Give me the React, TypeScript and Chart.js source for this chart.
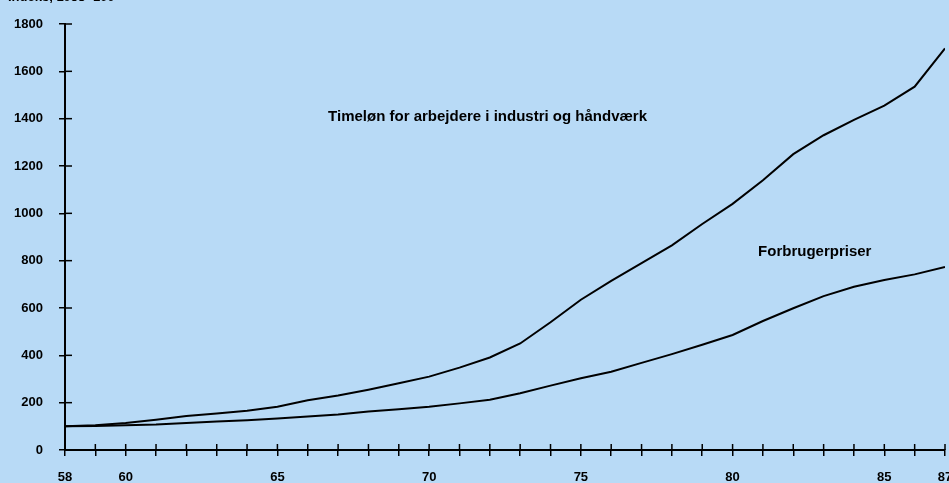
import React, { useEffect, useRef } from 'react';
import { Chart, registerables } from 'chart.js';

Chart.register(...registerables);

// ---- Data ----
const years = [58, 59, 60, 61, 62, 63, 64, 65, 66, 67, 68, 69, 70, 71, 72, 73, 74, 75, 76, 77, 78, 79, 80, 81, 82, 83, 84, 85, 86, 87];
const wages = [100, 105, 114, 128, 144, 154, 166, 183, 210, 230, 255, 282, 310, 348, 391, 450, 540, 635, 715, 790, 865, 955, 1040, 1140, 1250, 1330, 1395, 1455, 1535, 1697];
const prices = [100, 101, 105, 108, 114, 120, 126, 133, 142, 150, 163, 172, 183, 197, 212, 240, 272, 303, 331, 368, 405, 445, 486, 545, 599, 650, 690, 718, 742, 773];
const xLabels = [58, 60, 65, 70, 75, 80, 85, 87];
const yTicks = [0, 200, 400, 600, 800, 1000, 1200, 1400, 1600, 1800];
const wageLabel = 'Timeløn for arbejdere i industri og håndværk';
const priceLabel = 'Forbrugerpriser';
const yTitle = 'Indeks, 1958=100';

const FONT = '"Liberation Sans", Arial, Helvetica, sans-serif';
const BG = 'rgb(184, 218, 246)';

const decorPlugin = {
  id: 'decor',
  afterDraw(chart: any) {
    const { ctx, scales, chartArea } = chart;
    const xs = scales.x;
    const ys = scales.y;
    ctx.save();
    ctx.strokeStyle = '#000';
    ctx.lineWidth = 1.5;
    // inner halves of crossing ticks
    years.forEach((v) => {
      const px = xs.getPixelForValue(v);
      ctx.beginPath();
      ctx.moveTo(px, chartArea.bottom);
      ctx.lineTo(px, chartArea.bottom - 6);
      ctx.stroke();
    });
    yTicks.forEach((v) => {
      if (v === 0) return;
      const py = ys.getPixelForValue(v);
      ctx.beginPath();
      ctx.moveTo(chartArea.left, py);
      ctx.lineTo(chartArea.left + 7, py);
      ctx.stroke();
    });
    // annotations
    ctx.fillStyle = '#000';
    ctx.font = `bold 15px ${FONT}`;
    ctx.textBaseline = 'middle';
    ctx.textAlign = 'left';
    ctx.fillText(wageLabel, xs.getPixelForValue(66.67), ys.getPixelForValue(1408));
    ctx.fillText(priceLabel, xs.getPixelForValue(80.84), ys.getPixelForValue(836));
    ctx.font = `bold 13px ${FONT}`;
    ctx.textBaseline = 'alphabetic';
    ctx.fillText(yTitle, 8, 1);
    ctx.restore();
  },
};

export default function App() {
  const ref = useRef<HTMLCanvasElement | null>(null);

  useEffect(() => {
    if (!ref.current) return;
    const tickFont = { family: FONT, size: 13, weight: 'bold' as const };
    const chart = new Chart(ref.current, {
      type: 'line',
      data: {
        labels: years,
        datasets: [
          {
            label: wageLabel,
            data: years.map((y, i) => ({ x: y, y: wages[i] })),
            borderColor: '#000',
            borderWidth: 2,
            pointRadius: 0,
            tension: 0,
            fill: false,
          },
          {
            label: priceLabel,
            data: years.map((y, i) => ({ x: y, y: prices[i] })),
            borderColor: '#000',
            borderWidth: 2,
            pointRadius: 0,
            tension: 0,
            fill: false,
          },
        ],
      },
      options: {
        animation: false,
        responsive: false,
        maintainAspectRatio: false,
        layout: { padding: { top: 24, right: 4, bottom: 0, left: 0 } },
        plugins: { legend: { display: false }, tooltip: { enabled: false } },
        scales: {
          x: {
            type: 'linear',
            min: 58,
            max: 87,
            afterBuildTicks: (s: any) => {
              s.ticks = years.map((v) => ({ value: v }));
            },
            ticks: {
              autoSkip: false,
              maxRotation: 0,
              padding: 14,
              color: '#000',
              font: tickFont,
              callback: (v: any) => (xLabels.includes(Number(v)) ? String(v) : ''),
            },
            grid: { display: true, drawOnChartArea: false, drawTicks: true, tickLength: 6, color: '#000', lineWidth: 1.5 },
            border: { display: true, color: '#000', width: 2 },
            afterFit: (s: any) => {
              s.height = 33;
              s.paddingLeft = 0;
              s.paddingRight = 0;
            },
          },
          y: {
            type: 'linear',
            min: 0,
            max: 1800,
            afterBuildTicks: (s: any) => {
              s.ticks = yTicks.map((v) => ({ value: v }));
            },
            ticks: {
              padding: 16,
              color: '#000',
              font: tickFont,
              callback: (v: any) => String(v),
            },
            grid: { display: true, drawOnChartArea: false, drawTicks: true, tickLength: 6, color: '#000', lineWidth: 1.5 },
            border: { display: true, color: '#000', width: 2 },
            afterFit: (s: any) => {
              s.width = 65;
              s.paddingTop = 0;
              s.paddingBottom = 0;
            },
          },
        },
      },
      plugins: [decorPlugin],
    } as any);
    return () => chart.destroy();
  }, []);

  return (
    <div style={{ position: 'absolute', left: 0, top: 0, width: 949, height: 483, background: BG, overflow: 'hidden' }}>
      <canvas ref={ref} width={949} height={483} style={{ display: 'block', width: 949, height: 483 }} />
    </div>
  );
}
